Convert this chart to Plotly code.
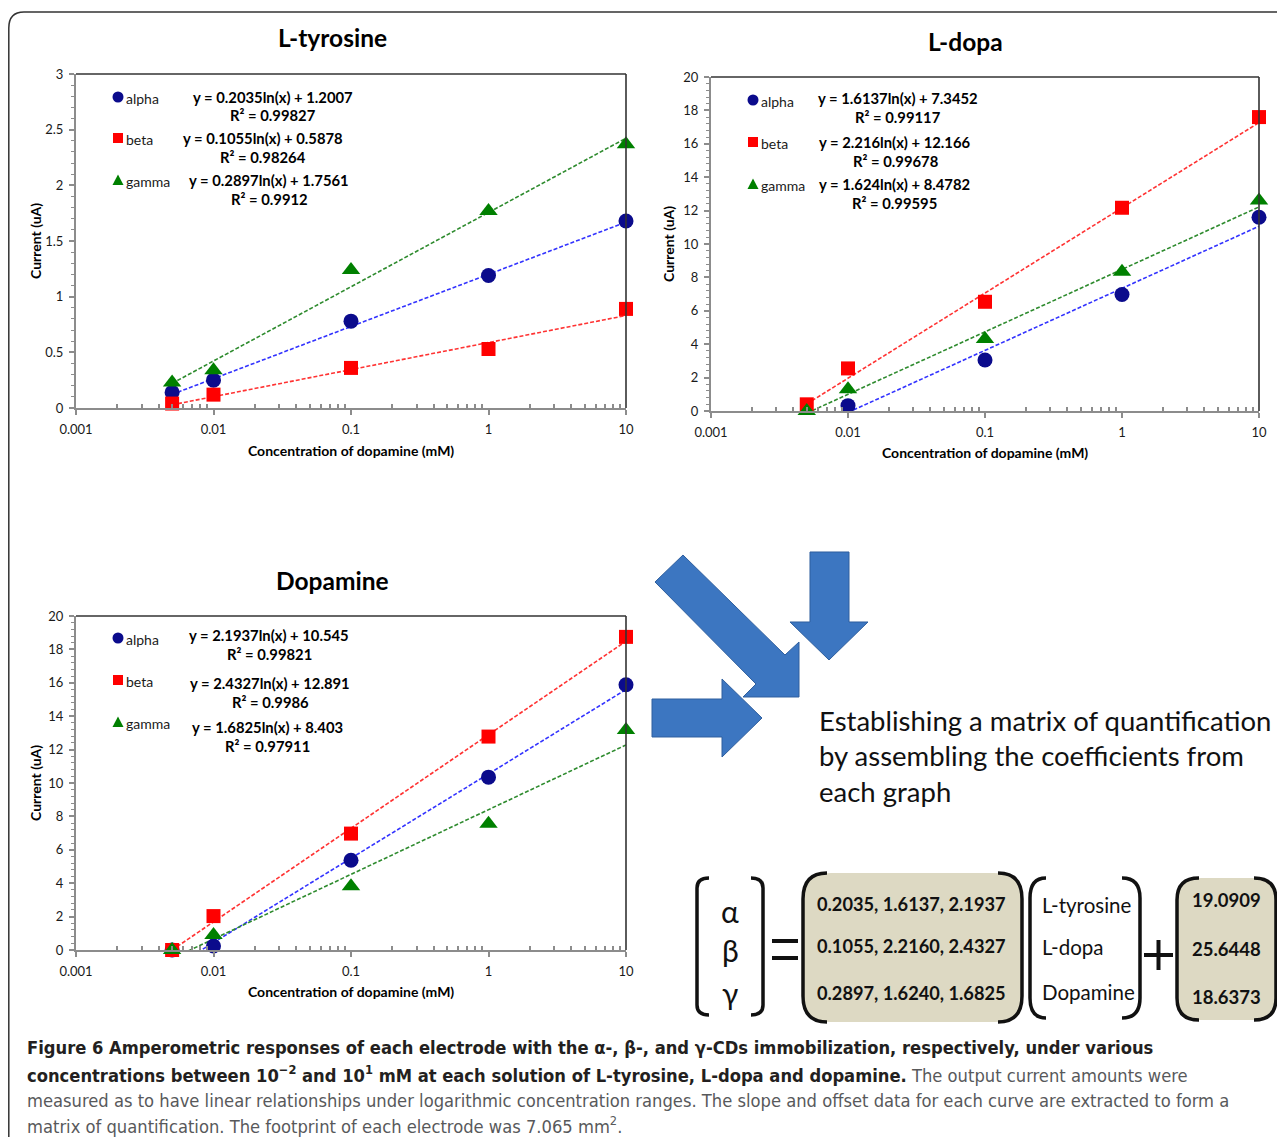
import numpy as np
import plotly.graph_objects as go

# page body has an 8px default margin: figure is sized to fit the window exactly
OX, OY = 8, 8
W, H = 1285 - 2 * OX, 1145 - 2 * OY


def px(x):
    return (x - OX) / W


def py(y):
    return 1 - (y - OY) / H


# ---------------- data ----------------
conc = [0.005, 0.01, 0.1, 1, 10]
series_names = ["alpha", "beta", "gamma"]
x_ticks = [0.001, 0.01, 0.1, 1, 10]
x_ticktext = ["0.001", "0.01", "0.1", "1", "10"]

tyr_alpha = [0.14, 0.25, 0.78, 1.19, 1.68]
tyr_beta = [0.04, 0.12, 0.36, 0.53, 0.89]
tyr_gamma = [0.23, 0.34, 1.24, 1.77, 2.37]

dopa_alpha = [None, 0.32, 3.05, 6.98, 11.6]
dopa_beta = [0.4, 2.55, 6.54, 12.17, 17.6]
dopa_gamma = [0.0, 1.3, 4.31, 8.34, 12.6]

dop_alpha = [0.0, 0.24, 5.37, 10.35, 15.88]
dop_beta = [0.0, 2.03, 6.97, 12.78, 18.75]
dop_gamma = [0.0, 0.9, 3.82, 7.56, 13.18]

tyr_slope = [0.2035, 0.1055, 0.2897]
tyr_icpt = [1.2007, 0.5878, 1.7561]
tyr_eq = ["y = 0.2035ln(x) + 1.2007", "y = 0.1055ln(x) + 0.5878", "y = 0.2897ln(x) + 1.7561"]
tyr_r2 = ["R² = 0.99827", "R² = 0.98264", "R² = 0.9912"]

dopa_slope = [1.6137, 2.216, 1.624]
dopa_icpt = [7.3452, 12.166, 8.4782]
dopa_eq = ["y = 1.6137ln(x) + 7.3452", "y = 2.216ln(x) + 12.166", "y = 1.624ln(x) + 8.4782"]
dopa_r2 = ["R² = 0.99117", "R² = 0.99678", "R² = 0.99595"]

dop_slope = [2.1937, 2.4327, 1.6825]
dop_icpt = [10.545, 12.891, 8.403]
dop_eq = ["y = 2.1937ln(x) + 10.545", "y = 2.4327ln(x) + 12.891", "y = 1.6825ln(x) + 8.403"]
dop_r2 = ["R² = 0.99821", "R² = 0.9986", "R² = 0.97911"]

greek = ["α", "β", "γ"]
matrix_rows = ["0.2035, 1.6137, 2.1937", "0.1055, 2.2160, 2.4327", "0.2897, 1.6240, 1.6825"]
analytes = ["L-tyrosine", "L-dopa", "Dopamine"]
offsets = ["19.0909", "25.6448", "18.6373"]

statement = ["Establishing a matrix of quantification",
             "by assembling the coefficients from",
             "each graph"]

caption = [
    "<b>Figure 6 Amperometric responses of each electrode with the α-, β-, and γ-CDs immobilization, respectively, under various</b>",
    "<b>concentrations between 10<sup>−2</sup> and 10<sup>1</sup> mM at each solution of L-tyrosine, L-dopa and dopamine.</b>"
    " <span style='color:#58595b'>The output current amounts were</span>",
    "<span style='color:#58595b'>measured as to have linear relationships under logarithmic concentration ranges. The slope and offset data for each curve are extracted to form a</span>",
    "<span style='color:#58595b'>matrix of quantification. The footprint of each electrode was 7.065 mm<sup>2</sup>.</span>",
]

# ---------------- styles ----------------
FONT = "Lato, 'Noto Sans', sans-serif"
CAPFONT = "'Liberation Sans Narrow', 'DejaVu Sans Condensed', 'Arial Narrow', sans-serif"
mk_colors = ["#0b0b8c", "#ff0000", "#008000"]
ln_colors = ["#3333ff", "#ff3333", "#2e8b2e"]
mk_symbols = ["circle", "square", "triangle-up"]
mk_sizes = [15, 14, 16]
AX = "#8c8c8c"

panels = [
    dict(title="L-tyrosine", vals=[tyr_alpha, tyr_beta, tyr_gamma], slope=tyr_slope, icpt=tyr_icpt,
         eq=tyr_eq, r2=tyr_r2, ymax=3, dtick=0.5, minor=0.1,
         box=(76, 626, 74, 408), title_xy=(332, 38), ylab_x=35, xlab_y=450,
         leg_x=118, leg_y=[97, 138, 180], eq_x=[273, 263, 269], eq_y=[97, 138, 180], r2_y=[115, 157, 199]),
    dict(title="L-dopa", vals=[dopa_alpha, dopa_beta, dopa_gamma], slope=dopa_slope, icpt=dopa_icpt,
         eq=dopa_eq, r2=dopa_r2, ymax=20, dtick=2, minor=0.4,
         box=(711, 1259, 77, 411), title_xy=(965, 41), ylab_x=669, xlab_y=453,
         leg_x=753, leg_y=[100, 142, 184], eq_x=[898, 895, 894], eq_y=[98, 142, 184], r2_y=[117, 161, 203]),
    dict(title="Dopamine", vals=[dop_alpha, dop_beta, dop_gamma], slope=dop_slope, icpt=dop_icpt,
         eq=dop_eq, r2=dop_r2, ymax=20, dtick=2, minor=0.4,
         box=(76, 626, 616, 950), title_xy=(332, 580), ylab_x=35, xlab_y=992,
         leg_x=118, leg_y=[638, 680, 722], eq_x=[269, 270, 267], eq_y=[635, 683, 727], r2_y=[654, 702, 746]),
]

fig = go.Figure()
shapes = []
annots = []
layout_axes = {}

minor_x = [k * 10.0 ** d for d in (-3, -2, -1, 0) for k in range(2, 10)]


def path(points, close=True):
    s = "M " + " L ".join(f"{px(x):.5f},{py(y):.5f}" for x, y in points)
    return s + (" Z" if close else "")


def note(x, y, text, size, color="#000", family=FONT, anchor="center", **kw):
    d = dict(x=px(x), y=py(y), xref="paper", yref="paper", xanchor=anchor, yanchor="middle",
             text=text, showarrow=False, font=dict(family=family, size=size, color=color))
    d.update(kw)
    annots.append(d)


for i, p in enumerate(panels):
    n = "" if i == 0 else str(i + 1)
    xa, ya = "x" + n, "y" + n
    x0, x1, y0, y1 = p["box"]
    layout_axes["xaxis" + n] = dict(
        type="log", range=[-3, 1], domain=[px(x0), px(x1)], anchor=ya, automargin=False,
        tickvals=x_ticks, ticktext=x_ticktext, ticks="outside", ticklen=5, tickwidth=1.5, tickcolor=AX,
        showline=True, linecolor=AX, linewidth=2, showgrid=False, zeroline=False,
        tickfont=dict(family=FONT, size=13, color="#1a1a1a"), ticklabelstandoff=3,
        minor=dict(tickvals=minor_x, ticks="inside", ticklen=4, tickwidth=1.5, tickcolor=AX, showgrid=False),
    )
    layout_axes["yaxis" + n] = dict(
        range=[0, p["ymax"]], domain=[py(y1), py(y0)], anchor=xa, automargin=False,
        tick0=0, dtick=p["dtick"], ticks="outside", ticklen=5, tickwidth=1.5, tickcolor=AX,
        showline=True, linecolor=AX, linewidth=2, showgrid=False, zeroline=False,
        tickfont=dict(family=FONT, size=13, color="#1a1a1a"), ticklabelstandoff=3,
        minor=dict(dtick=p["minor"], tick0=0, ticks="outside", ticklen=3, tickwidth=1.2, tickcolor=AX, showgrid=False),
    )
    # trendlines
    for s in range(3):
        xs = [c for c, v in zip(conc, p["vals"][s]) if v is not None]
        xl = np.array([min(xs), max(xs)])
        yl = p["slope"][s] * np.log(xl) + p["icpt"][s]
        fig.add_trace(go.Scatter(x=xl, y=yl, mode="lines", xaxis=xa, yaxis=ya, showlegend=False,
                                 line=dict(color=ln_colors[s], width=1.6, dash="4px,2px"), hoverinfo="skip"))
    # markers
    for s in range(3):
        fig.add_trace(go.Scatter(x=conc, y=p["vals"][s], mode="markers", xaxis=xa, yaxis=ya,
                                 name=series_names[s], showlegend=False, cliponaxis=False,
                                 marker=dict(symbol=mk_symbols[s], size=mk_sizes[s], color=mk_colors[s],
                                             line=dict(width=0))))
    # top/right frame
    shapes.append(dict(type="line", xref="paper", yref="paper", x0=px(x0), x1=px(x1), y0=py(y0), y1=py(y0),
                       line=dict(color="#333333", width=1.6)))
    shapes.append(dict(type="line", xref="paper", yref="paper", x0=px(x1), x1=px(x1), y0=py(y0), y1=py(y1),
                       line=dict(color="#333333", width=1.6)))
    # titles
    tx, ty = p["title_xy"]
    note(tx, ty, "<b>" + p["title"] + "</b>", 24.5)
    note((x0 + x1) / 2, p["xlab_y"], "<b>Concentration of dopamine (mM)</b>", 14)
    note(p["ylab_x"], (y0 + y1) / 2, "<b>Current (uA)</b>", 14, textangle=-90)
    # legend symbols + labels + equations
    lx = p["leg_x"]
    for s in range(3):
        ly = p["leg_y"][s]
        if s == 0:
            shapes.append(dict(type="circle", xref="paper", yref="paper", x0=px(lx - 5.5), x1=px(lx + 5.5),
                               y0=py(ly + 5.5), y1=py(ly - 5.5), fillcolor=mk_colors[0], line=dict(width=0)))
        elif s == 1:
            shapes.append(dict(type="rect", xref="paper", yref="paper", x0=px(lx - 5), x1=px(lx + 5),
                               y0=py(ly + 5), y1=py(ly - 5), fillcolor=mk_colors[1], line=dict(width=0)))
        else:
            shapes.append(dict(type="path", xref="paper", yref="paper",
                               path=path([(lx - 5.5, ly + 5), (lx + 5.5, ly + 5), (lx, ly - 5.5)]),
                               fillcolor=mk_colors[2], line=dict(width=0)))
        note(lx + 6, ly + 1, series_names[s], 14, color="#1a1a1a", anchor="left")
        note(p["eq_x"][s], p["eq_y"][s], "<b>" + p["eq"][s] + "</b>", 14.8)
        note(p["eq_x"][s], p["r2_y"][s], "<b>" + p["r2"][s] + "</b>", 14.8)

# ---------------- arrows ----------------
ARROW_FILL = "#3c76c1"
ARROW_LINE = "#2f5f9e"
arrows = [
    [(683, 555), (785, 655), (799, 642), (799, 697), (743, 697), (756, 684), (655, 582)],
    [(810, 552), (849, 552), (849, 622), (868, 622), (829, 660), (790, 622), (810, 622)],
    [(652, 699), (722, 699), (722, 679), (762, 718), (722, 757), (722, 737), (652, 737)],
]
for a in arrows:
    shapes.append(dict(type="path", xref="paper", yref="paper", path=path(a), fillcolor=ARROW_FILL,
                       line=dict(color=ARROW_LINE, width=1)))

for k, line in enumerate(statement):
    note(817, [720, 755, 791][k], line, 27.5, color="#111", anchor="left")

# ---------------- matrix equation ----------------
BLK = dict(color="#111111", width=3.5)
TAN = "#ddd9c3"


def bracket(xv, xe, ytop, ybot, r):
    return ("M {a},{b} Q {c},{b} {c},{d} L {c},{e} Q {c},{f} {a},{f}".format(
        a=f"{px(xe):.5f}", b=f"{py(ytop):.5f}", c=f"{px(xv):.5f}", d=f"{py(ytop + r):.5f}",
        e=f"{py(ybot - r):.5f}", f=f"{py(ybot):.5f}"))


def tanbox(xl, xr, yt, yb, r):
    return ("M {0},{1} L {2},{1} Q {3},{1} {3},{4} L {3},{5} Q {3},{6} {2},{6} L {0},{6} Q {7},{6} {7},{5} "
            "L {7},{4} Q {7},{1} {0},{1} Z").format(
        f"{px(xl + r):.5f}", f"{py(yt):.5f}", f"{px(xr - r):.5f}", f"{px(xr):.5f}", f"{py(yt + r):.5f}",
        f"{py(yb - r):.5f}", f"{py(yb):.5f}", f"{px(xl):.5f}")


# greek vector brackets
shapes.append(dict(type="path", xref="paper", yref="paper", path=bracket(697, 709, 878, 1015, 10), line=BLK))
shapes.append(dict(type="path", xref="paper", yref="paper", path=bracket(763, 751, 878, 1015, 10), line=BLK))
# equals sign
for yy in (941, 958):
    shapes.append(dict(type="line", xref="paper", yref="paper", x0=px(772), x1=px(798), y0=py(yy), y1=py(yy),
                       line=dict(color="#111", width=4)))
# coefficient matrix
shapes.append(dict(type="path", xref="paper", yref="paper", path=tanbox(803, 1022, 873, 1022, 28),
                   fillcolor=TAN, line=dict(width=0)))
shapes.append(dict(type="path", xref="paper", yref="paper", path=bracket(803, 827, 873, 1022, 26), line=BLK))
shapes.append(dict(type="path", xref="paper", yref="paper", path=bracket(1022, 998, 873, 1022, 26), line=BLK))
# analyte vector
shapes.append(dict(type="path", xref="paper", yref="paper", path=bracket(1030, 1046, 878, 1018, 20), line=BLK))
shapes.append(dict(type="path", xref="paper", yref="paper", path=bracket(1140, 1122, 878, 1018, 20), line=BLK))
# plus sign
shapes.append(dict(type="line", xref="paper", yref="paper", x0=px(1144), x1=px(1173), y0=py(955), y1=py(955),
                   line=dict(color="#111", width=4)))
shapes.append(dict(type="line", xref="paper", yref="paper", x0=px(1158.5), x1=px(1158.5), y0=py(940), y1=py(970),
                   line=dict(color="#111", width=4)))
# offset vector
shapes.append(dict(type="path", xref="paper", yref="paper", path=tanbox(1177, 1276, 878, 1020, 24),
                   fillcolor=TAN, line=dict(width=0)))
shapes.append(dict(type="path", xref="paper", yref="paper", path=bracket(1177, 1199, 878, 1020, 22), line=BLK))
shapes.append(dict(type="path", xref="paper", yref="paper", path=bracket(1276, 1254, 878, 1020, 22), line=BLK))

for k in range(3):
    note(730, [911, 950, 993][k], greek[k], 30, color="#111")
    note(911, [904, 946, 993][k], "<b>" + matrix_rows[k] + "</b>", 18.2, color="#111")
    note(1040, [905, 947, 992][k], analytes[k], 20.5, color="#111", anchor="left")
    note(1226, [900, 949, 997][k], "<b>" + offsets[k] + "</b>", 18.5, color="#111")

# ---------------- caption ----------------
for k, line in enumerate(caption):
    note(25, [1047, 1074, 1100, 1125][k], line, 18.2, color="#231f20", family=CAPFONT, anchor="left")

# outer frame
shapes.append(dict(type="path", xref="paper", yref="paper",
                   path="M {0},{1} L {0},{2} Q {0},{3} {4},{3} L {5},{3}".format(
                       f"{px(8.8):.5f}", f"{py(1150):.5f}", f"{py(28):.5f}", f"{py(12):.5f}",
                       f"{px(24):.5f}", f"{px(1290):.5f}"),
                   line=dict(color="#333333", width=1.5)))

fig.update_layout(
    width=W, height=H, autosize=False, margin=dict(l=0, r=0, t=0, b=0, pad=0, autoexpand=False),
    paper_bgcolor="white", plot_bgcolor="white", showlegend=False,
    shapes=shapes, annotations=annots, **layout_axes,
)

fig.write_html("out.html")
